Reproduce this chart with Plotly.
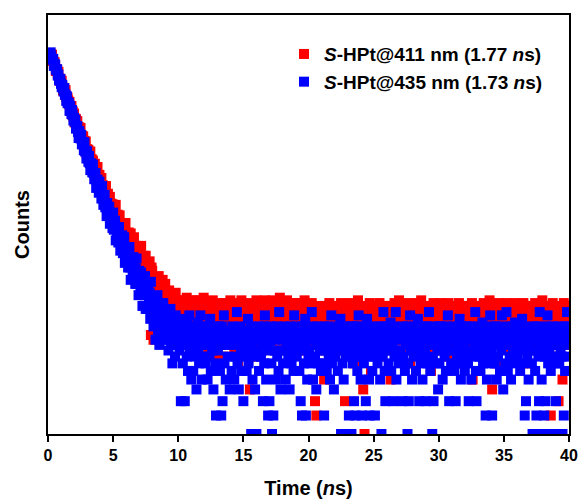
import numpy as np
import plotly.graph_objects as go

# TCSPC channel grid (ns): 800 channels, 0.05 ns wide
time_step = 0.05
time_ns = np.round(np.arange(1, 801) * time_step, 2)

series_names = ["<b><i>S</i>-HPt@411 nm (1.77 <i>n</i>s)</b>",
                "<b><i>S</i>-HPt@435 nm (1.73 <i>n</i>s)</b>"]

# ---- S-HPt @ 411 nm (red): counts per channel, 0.05-8.00 ns ----
red_decay = [
    1006, 1083, 1081, 1047, 1105, 1095, 1005, 996, 941, 977,
    933, 851, 878, 868, 816, 841, 758, 730, 753, 720,
    730, 666, 628, 652, 648, 588, 631, 574, 535, 562,
    538, 508, 526, 457, 480, 494, 433, 453, 422, 439,
    382, 405, 401, 363, 390, 356, 328, 354, 324, 350,
    299, 310, 272, 308, 283, 287, 259, 284, 236, 252,
    250, 249, 216, 225, 243, 205, 216, 183, 211, 198,
    183, 201, 190, 160, 174, 191, 153, 167, 169, 138,
    148, 161, 137, 144, 119, 141, 133, 120, 142, 121,
    106, 126, 116, 107, 120, 93, 108, 102, 107, 88,
    104, 87, 96, 106, 78, 87, 91, 69, 79, 90,
    79, 68, 79, 72, 57, 78, 72, 63, 80, 62,
    54, 68, 63, 69, 53, 57, 68, 44, 57, 59,
    50, 64, 52, 42, 56, 52, 42, 55, 45, 34,
    50, 46, 56, 39, 45, 33, 48, 41, 34, 48,
    38, 27, 42, 39, 34, 44, 36, 14, 40, 38,
]
# 8.05-40.00 ns, one row per ns
red_tail = [
    29, 13, 25, 33, 22, 28, 20, 31, 26, 35, 23, 27, 19, 30, 24, 33, 21, 28, 25, 31,
    24, 19, 27, 17, 22, 28, 20, 16, 25, 21, 14, 23, 26, 18, 22, 27, 17, 20, 24, 15,
    20, 16, 23, 18, 13, 24, 19, 17, 22, 12, 21, 18, 25, 15, 20, 23, 13, 19, 17, 24,
    18, 22, 14, 20, 24, 16, 12, 21, 17, 23, 15, 19, 13, 24, 18, 14, 21, 16, 25, 13,
    16, 21, 13, 19, 23, 11, 17, 22, 15, 20, 12, 18, 24, 14, 21, 17, 10, 19, 22, 15,
    20, 14, 17, 23, 12, 18, 15, 21, 10, 19, 23, 13, 16, 22, 12, 18, 20, 14, 17, 24,
    15, 19, 12, 22, 17, 11, 20, 16, 23, 14, 18, 9, 21, 15, 13, 19, 24, 12, 17, 20,
    18, 13, 21, 16, 12, 20, 15, 23, 17, 6, 19, 14, 22, 12, 18, 16, 10, 21, 15, 24,
    14, 20, 17, 12, 23, 16, 19, 11, 22, 15, 18, 13, 24, 17, 21, 12, 16, 20, 14, 22,
    21, 16, 12, 19, 24, 14, 18, 22, 11, 17, 20, 15, 23, 13, 19, 25, 16, 11, 21, 18,
    17, 22, 14, 20, 12, 18, 24, 15, 19, 13, 23, 16, 10, 21, 17, 14, 20, 23, 12, 18,
    19, 14, 23, 16, 20, 12, 17, 22, 15, 18, 11, 21, 16, 24, 13, 19, 11, 17, 22, 15,
    16, 20, 13, 18, 23, 15, 12, 19, 17, 5, 21, 4, 14, 22, 18, 12, 20, 16, 11, 19,
    18, 13, 21, 7, 17, 22, 14, 19, 12, 20, 16, 23, 15, 10, 18, 21, 13, 17, 22, 14,
    15, 20, 17, 12, 22, 16, 19, 11, 18, 23, 14, 21, 17, 12, 19, 5, 16, 20, 13, 22,
    20, 14, 18, 23, 12, 17, 21, 15, 19, 9, 22, 16, 13, 20, 17, 24, 12, 18, 15, 21,
    17, 21, 13, 6, 19, 3, 16, 22, 14, 18, 12, 20, 15, 23, 17, 8, 19, 13, 21, 16,
    14, 19, 22, 16, 12, 20, 17, 13, 23, 15, 18, 10, 21, 14, 19, 16, 22, 12, 17, 20,
    19, 15, 21, 12, 18, 7, 22, 16, 20, 14, 17, 23, 11, 19, 15, 21, 13, 18, 24, 16,
    16, 22, 13, 19, 17, 11, 21, 15, 18, 23, 12, 20, 16, 14, 22, 9, 19, 17, 21, 13,
    21, 17, 14, 20, 23, 12, 18, 16, 22, 11, 19, 15, 24, 13, 17, 20, 11, 22, 16, 18,
    15, 20, 18, 11, 22, 16, 19, 8, 21, 14, 17, 23, 12, 20, 16, 18, 13, 22, 19, 14,
    19, 13, 23, 17, 15, 21, 11, 18, 22, 16, 14, 20, 17, 10, 23, 15, 19, 12, 21, 17,
    17, 21, 14, 19, 12, 22, 16, 20, 11, 18, 23, 15, 19, 13, 17, 21, 9, 20, 16, 22,
    20, 15, 18, 22, 13, 17, 21, 12, 19, 16, 23, 7, 18, 14, 20, 17, 22, 12, 19, 15,
    16, 22, 13, 19, 17, 21, 11, 18, 23, 15, 20, 14, 17, 22, 12, 19, 16, 24, 13, 18,
    19, 6, 21, 16, 18, 13, 22, 17, 9, 20, 15, 23, 18, 12, 21, 16, 19, 14, 22, 17,
    15, 20, 17, 23, 12, 18, 21, 16, 19, 11, 22, 14, 18, 20, 13, 17, 23, 15, 10, 19,
    21, 16, 19, 13, 22, 17, 14, 20, 18, 23, 12, 16, 19, 15, 21, 9, 18, 22, 14, 17,
    18, 22, 14, 20, 16, 12, 19, 23, 17, 15, 21, 13, 18, 22, 11, 20, 16, 19, 24, 14,
    16, 20, 18, 13, 22, 17, 19, 15, 21, 12, 18, 4, 20, 16, 23, 14, 19, 10, 17, 21,
    19, 15, 22, 5, 17, 20, 14, 21, 18, 7, 16, 23, 13, 19, 22, 17, 12, 20, 18, 15,
]

# ---- S-HPt @ 435 nm (blue): counts per channel, 0.05-8.00 ns ----
blue_decay = [
    1021, 1015, 1096, 1137, 1078, 1025, 1027, 1027, 920, 952,
    938, 870, 860, 874, 792, 806, 734, 753, 751, 696,
    661, 686, 649, 618, 653, 589, 589, 535, 573, 516,
    522, 516, 458, 495, 460, 436, 463, 430, 394, 411,
    386, 398, 347, 360, 361, 330, 300, 334, 318, 298,
    315, 272, 279, 281, 248, 280, 243, 246, 218, 244,
    227, 207, 227, 203, 182, 202, 200, 176, 198, 174,
    158, 170, 174, 138, 154, 157, 139, 128, 152, 133,
    137, 117, 142, 117, 106, 119, 124, 102, 106, 89,
    109, 101, 90, 103, 79, 92, 84, 91, 74, 94,
    72, 78, 83, 61, 75, 68, 74, 59, 75, 65,
    52, 64, 55, 66, 50, 54, 64, 43, 53, 55,
    46, 55, 40, 47, 55, 40, 33, 46, 43, 35,
    47, 37, 43, 31, 39, 46, 31, 34, 26, 38,
    34, 27, 37, 30, 22, 32, 33, 26, 35, 21,
    28, 30, 21, 31, 24, 27, 18, 32, 23, 19,
]
# 8.05-40.00 ns, one row per ns
blue_tail = [
    21, 16, 24, 18, 13, 22, 17, 26, 15, 20, 12, 23, 18, 14, 21, 16, 23, 13, 19, 15,
    17, 13, 20, 15, 11, 16, 15, 21, 12, 16, 9, 18, 14, 15, 10, 19, 15, 12, 16, 14,
    15, 11, 16, 5, 13, 18, 9, 16, 12, 5, 14, 15, 10, 17, 8, 13, 19, 11, 15, 7,
    12, 16, 8, 14, 15, 10, 15, 6, 13, 17, 11, 9, 16, 19, 12, 7, 14, 15, 10, 13,
    16, 9, 13, 15, 7, 12, 15, 10, 18, 8, 14, 11, 16, 6, 13, 14, 9, 4, 15, 12,
    11, 14, 16, 8, 13, 4, 16, 5, 12, 19, 9, 15, 7, 13, 15, 10, 14, 12, 6, 14,
    13, 8, 16, 14, 15, 7, 14, 10, 12, 20, 9, 15, 6, 13, 16, 11, 8, 14, 15, 5,
    10, 15, 12, 14, 8, 13, 18, 9, 14, 11, 16, 3, 12, 7, 15, 10, 13, 6, 15, 3,
    14, 11, 16, 8, 13, 15, 10, 15, 12, 5, 16, 9, 19, 13, 7, 11, 14, 4, 14, 5,
    12, 16, 9, 3, 14, 4, 15, 11, 13, 7, 16, 10, 15, 8, 20, 14, 6, 14, 11, 15,
    9, 13, 16, 11, 7, 15, 12, 14, 10, 14, 6, 16, 12, 9, 15, 13, 8, 19, 11, 15,
    13, 10, 16, 12, 15, 8, 14, 5, 11, 4, 16, 13, 9, 15, 18, 4, 12, 7, 14, 10,
    11, 15, 9, 14, 20, 16, 7, 13, 14, 10, 15, 6, 12, 16, 9, 14, 11, 15, 8, 13,
    15, 12, 9, 4, 16, 11, 14, 8, 15, 13, 10, 16, 7, 12, 19, 9, 15, 11, 6, 14,
    10, 14, 12, 15, 8, 13, 16, 11, 18, 3, 12, 9, 15, 7, 14, 16, 10, 3, 13, 11,
    12, 4, 15, 10, 16, 3, 15, 9, 14, 5, 16, 4, 11, 16, 8, 12, 19, 10, 14, 7,
    15, 4, 11, 15, 9, 13, 16, 5, 12, 18, 10, 14, 7, 4, 13, 16, 11, 8, 15, 12,
    10, 4, 14, 12, 15, 9, 15, 11, 16, 7, 13, 3, 16, 10, 20, 12, 8, 5, 14, 11,
    13, 16, 9, 15, 11, 17, 8, 14, 12, 5, 16, 10, 14, 20, 7, 15, 11, 15, 9, 14,
    11, 15, 13, 5, 16, 10, 14, 8, 15, 12, 16, 3, 9, 5, 14, 19, 11, 13, 7, 15,
    14, 10, 16, 12, 8, 15, 11, 18, 13, 5, 16, 9, 12, 15, 7, 14, 10, 16, 11, 5,
    12, 16, 9, 14, 20, 15, 8, 13, 15, 3, 10, 5, 16, 12, 14, 9, 14, 11, 6, 16,
    9, 13, 16, 11, 15, 7, 12, 15, 10, 14, 8, 16, 12, 19, 13, 5, 11, 15, 9, 14,
    14, 11, 16, 8, 13, 5, 15, 10, 12, 15, 9, 18, 13, 7, 11, 16, 10, 14, 12, 8,
    14, 15, 10, 16, 9, 5, 14, 11, 16, 7, 13, 15, 10, 15, 12, 20, 8, 5, 13, 11,
    16, 10, 13, 8, 15, 12, 17, 9, 14, 11, 16, 4, 12, 7, 14, 10, 15, 13, 19, 9,
    11, 4, 15, 12, 16, 9, 13, 16, 7, 14, 10, 15, 12, 8, 15, 11, 19, 13, 6, 14,
    13, 9, 16, 20, 14, 8, 15, 12, 10, 15, 7, 13, 16, 11, 9, 14, 17, 10, 12, 16,
    10, 14, 12, 16, 8, 13, 11, 18, 9, 15, 12, 4, 16, 5, 13, 10, 15, 7, 14, 11,
    12, 15, 9, 3, 14, 11, 16, 8, 13, 4, 16, 3, 10, 5, 20, 12, 14, 7, 11, 3,
    13, 4, 10, 5, 16, 12, 19, 9, 15, 11, 15, 8, 13, 3, 16, 10, 12, 14, 9, 5,
    14, 3, 12, 16, 9, 13, 11, 15, 10, 3, 15, 4, 12, 8, 16, 13, 20, 10, 14, 16,
]

red_counts = red_decay + red_tail
blue_counts = blue_decay + blue_tail

x_ticks = [0, 5, 10, 15, 20, 25, 30, 35, 40]
y_min_count = 3
y_decades = 2.831

FONT = "Liberation Sans, Arial, Helvetica, sans-serif"

fig = go.Figure()
fig.add_trace(go.Scatter(x=time_ns, y=red_counts, mode="markers", name=series_names[0],
                         marker=dict(symbol="square", size=10, color="#FF0000", line=dict(width=0))))
fig.add_trace(go.Scatter(x=time_ns, y=blue_counts, mode="markers", name=series_names[1],
                         marker=dict(symbol="square", size=10, color="#0000FF", line=dict(width=0))))

ylo = np.log10(y_min_count)
fig.update_layout(
    width=579, height=504,
    margin=dict(l=48, r=10, t=15, b=70),
    paper_bgcolor="white", plot_bgcolor="white",
    font=dict(family=FONT, color="black"),
    showlegend=True,
    legend=dict(x=0.453, y=0.952, xanchor="left", yanchor="top",
                bgcolor="rgba(0,0,0,0)", borderwidth=0,
                font=dict(size=19, family=FONT, color="black"),
                tracegroupgap=0),
    xaxis=dict(range=[0, 40], tickvals=x_ticks, ticktext=[str(v) for v in x_ticks],
               automargin=False,
               showgrid=False, zeroline=False,
               showline=True, linecolor="black", linewidth=2, mirror=True,
               ticks="outside", ticklen=6, tickwidth=2, tickcolor="black",
               tickfont=dict(size=16, family=FONT, color="black", weight="bold"),
               title=dict(text="<b>Time (<i>n</i>s)</b>", font=dict(size=20, family=FONT, color="black"),
                          standoff=18)),
    yaxis=dict(type="log", range=[ylo, ylo + y_decades],
               automargin=False,
               showgrid=False, zeroline=False,
               showline=True, linecolor="black", linewidth=2, mirror=True,
               ticks="", showticklabels=False,
               title=dict(text="<b>Counts</b>", font=dict(size=20, family=FONT, color="black"),
                          standoff=11)),
)

fig.write_html("out.html")
